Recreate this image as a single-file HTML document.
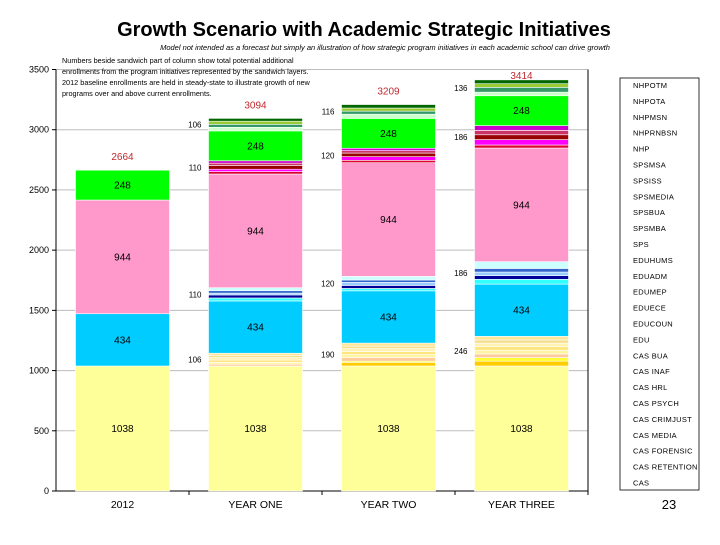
<!DOCTYPE html>
<html><head><meta charset="utf-8"><style>
body{margin:0;background:#fff;width:720px;height:540px;overflow:hidden;font-family:"Liberation Sans",sans-serif}
</style></head><body>
<svg width="720" height="540" viewBox="0 0 720 540" xmlns="http://www.w3.org/2000/svg" font-family="Liberation Sans, sans-serif">
<text x="364" y="36" text-anchor="middle" font-size="20" font-weight="bold">Growth Scenario with Academic Strategic Initiatives</text>
<text x="385" y="50" text-anchor="middle" font-size="7.5" font-style="italic">Model not intended as a forecast but simply an illustration of how strategic program initiatives in each academic school can drive growth</text>
<g id="grid"></g>
<g id="bars"></g>
<g id="labels"></g>
<g font-size="7.3">
<text x="62" y="63">Numbers beside sandwich part of column show total potential additional</text>
<text x="62" y="74">enrollments from the program initiatives represented by the sandwich layers.</text>
<text x="62" y="85">2012 baseline enrollments are held in steady-state to illustrate growth of new</text>
<text x="62" y="96">programs over and above current enrollments.</text>
</g>
<rect x="620" y="78" width="79" height="412" fill="#fff" stroke="#000" stroke-width="0.8"/>
<g id="legend"></g>
<text x="669" y="509" text-anchor="middle" font-size="13">23</text>
</svg>
<script>
const categories=["2012","YEAR ONE","YEAR TWO","YEAR THREE"];
const seriesNames=["CAS","CAS RETENTION","CAS FORENSIC","CAS MEDIA","CAS CRIMJUST","CAS PSYCH","CAS HRL","CAS INAF","CAS BUA","EDU","EDUCOUN","EDUECE","EDUMEP","EDUADM","EDUHUMS","SPS","SPSMBA","SPSBUA","SPSMEDIA","SPSISS","SPSMSA","NHP","NHPRNBSN","NHPMSN","NHPOTA","NHPOTM"];
const seriesColors=["#FFFF99","#FFCC00","#FFFF33","#FFCC99","#FFF5A0","#FFE680","#FFF2B3","#F5DE8C","#FFE699","#00CCFF","#33FFFF","#000099","#99CCFF","#3366CC","#CCFFFF","#FF99CC","#DD0033","#FF00FF","#990000","#CC3366","#CC00CC","#00FF00","#CCFFCC","#339966","#99CC33","#006600"];
const seriesValues=[
[1038,1038,1038,1038],
[0,0,30,40],[0,0,10,30],[0,15,30,30],[0,15,25,30],[0,20,25,30],[0,20,25,30],[0,16,20,26],[0,20,25,30],
[434,434,434,434],
[0,25,20,40],[0,25,25,30],[0,15,25,30],[0,20,20,30],[0,25,30,56],
[944,944,944,944],
[0,20,20,25],[0,20,30,45],[0,30,30,40],[0,20,20,36],[0,20,20,40],
[248,248,248,248],
[0,30,35,30],[0,25,25,40],[0,26,26,30],[0,23,29,32]
];
const baseIdx=[0,9,15,21];
const sandwichRanges=[[1,8],[10,14],[16,20],[22,25]];
const sandwichTotals=[[0,106,190,246],[0,110,120,186],[0,110,120,186],[0,106,116,136]];
const yTicks=[0,500,1000,1500,2000,2500,3000,3500];
const X0=56,X1=588,Y0=491,YT=69.5,YMAX=3500;
const y=v=>Y0-(Y0-YT)*v/YMAX;
const band=(X1-X0)/categories.length;
const xc=i=>X0+band*(i+0.5);
const BW=94;
const NS="http://www.w3.org/2000/svg";
function mk(tag,attrs,parent){const e=document.createElementNS(NS,tag);for(const k in attrs)e.setAttribute(k,attrs[k]);parent.appendChild(e);return e;}
const grid=document.getElementById('grid'),bars=document.getElementById('bars'),labels=document.getElementById('labels'),legend=document.getElementById('legend');
yTicks.forEach(t=>{
 if(t>0){const l=mk('line',{x1:X0,x2:X1,y1:y(t),y2:y(t),stroke:'#BDBDBD','stroke-width':1},grid);
 
 }
 const tk=mk('line',{x1:X0-4,x2:X0,y1:y(t),y2:y(t),stroke:'#000'},grid);
 
 
 const tx=mk('text',{x:X0-7,y:y(t)+3,'text-anchor':'end','font-size':9},grid);tx.textContent=t;
 
 
});
const ax=mk('line',{x1:X0,x2:X0,y1:YT,y2:Y0,stroke:'#000'},grid);


const xa=mk('line',{x1:X0,x2:X1,y1:Y0,y2:Y0,stroke:'#000'},grid);


const rb=mk('line',{x1:X1,x2:X1,y1:YT,y2:Y0,stroke:'#000'},grid);


categories.forEach((c,i)=>{
 const tk=mk('line',{x1:X0+band*(i+1),x2:X0+band*(i+1),y1:Y0,y2:Y0+4,stroke:'#000'},grid);
 
 
 const t=mk('text',{x:xc(i),y:Y0+17,'text-anchor':'middle','font-size':10.5},grid);t.textContent=c;
 
 
 let cum=0;const bottoms=[];
 seriesValues.forEach((vals,s)=>{
  const v=vals[i];bottoms[s]=cum;
  if(v>0){const r=mk('rect',{x:xc(i)-BW/2,y:y(cum+v),width:BW,height:y(cum)-y(cum+v),fill:seriesColors[s],stroke:'#fff','stroke-width':0.6},bars);
  
  }
  cum+=v;
 });
 baseIdx.forEach(s=>{
  const v=seriesValues[s][i];
  const t=mk('text',{x:xc(i),y:(y(bottoms[s])+y(bottoms[s]+v))/2+3.5,'text-anchor':'middle','font-size':10},labels);t.textContent=v;
  
  
 });
 sandwichRanges.forEach((rg,g)=>{
  const tot=sandwichTotals[g][i];if(!tot)return;
  const b=bottoms[rg[0]],tp=bottoms[rg[1]]+seriesValues[rg[1]][i];
  const t=mk('text',{x:xc(i)-BW/2-7,y:(y(b)+y(tp))/2+3,'text-anchor':'end','font-size':8},labels);t.textContent=tot;
  
  
 });
 const t2=mk('text',{x:xc(i),y:Math.max(y(cum)-10,79),'text-anchor':'middle','font-size':10,fill:'#C0282D'},labels);t2.textContent=cum;
 
 
});
seriesNames.slice().reverse().forEach((n,k)=>{
 const t=mk('text',{x:633,y:88+k*15.9,'font-size':7.5,'letter-spacing':'0.3'},legend);t.textContent=n;
 
 
});
</script>
</body></html>
